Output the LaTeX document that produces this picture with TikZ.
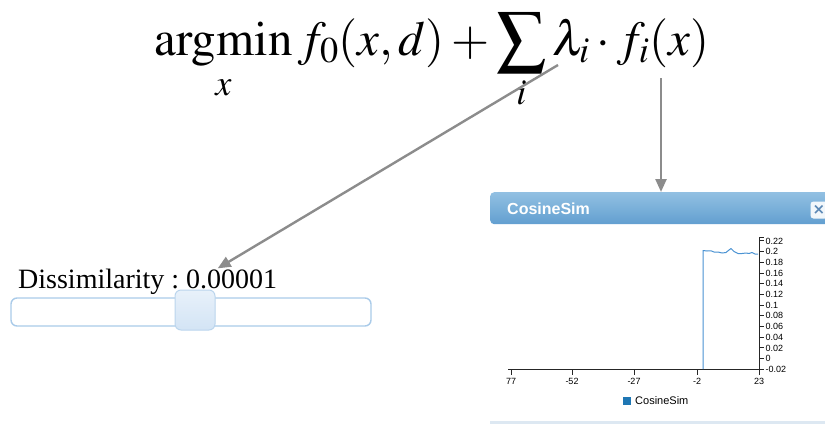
\documentclass[tikz,border=0pt]{standalone}
\usepackage{amsmath}
\usepackage{mathptmx}
\usepackage{fontspec}
\setmainfont{Liberation Serif}
\newfontfamily\uisans{Liberation Sans}
\newfontfamily\symfont{DejaVu Sans}
\usetikzlibrary{arrows.meta,positioning,calc}

\definecolor{pointergray}{HTML}{8C8C8C}
\definecolor{bartop}{HTML}{92C0E2}
\definecolor{barbot}{HTML}{629FD0}
\definecolor{trackblue}{HTML}{AACBE9}
\definecolor{knobtop}{HTML}{E8F1FA}
\definecolor{knobbot}{HTML}{D3E4F5}
\definecolor{seriesblue}{HTML}{4A93D3}
\definecolor{legendblue}{HTML}{1F77B4}
\definecolor{closeblue}{HTML}{5B88B5}
\definecolor{winedge}{HTML}{DDE8F2}

\begin{document}
\frenchspacing
\begin{tikzpicture}[
        x=1pt, y=-1pt,
        pointer/.style={-{Triangle[length=13pt,width=11pt]}, line width=2.4pt, pointergray},
        track/.style={rectangle, draw=trackblue, line width=1.4pt, fill=white, rounded corners=6pt, inner sep=0pt},
        knob/.style={rectangle, draw=trackblue!80, line width=1pt, top color=knobtop, bottom color=knobbot, rounded corners=6pt, inner sep=0pt, minimum width=40pt, minimum height=40pt},
        titlebar/.style={rectangle, top color=bartop, bottom color=barbot, rounded corners=4pt, inner sep=0pt},
        axisline/.style={line width=0.9pt, black!85},
        ticklab/.style={font=\uisans\fontsize{9}{10}\selectfont, inner sep=1pt},
    ]
    \useasboundingbox (0,0) rectangle (825,426);

    % objective
    \node[anchor=base, inner sep=0pt, font=\fontsize{49}{52}\selectfont] (objective) at (432,55)
    {$\displaystyle \operatorname*{argmin}_{x} f_0(x,d) + \sum_{i} \lambda_i \cdot f_i(x)$};
    \coordinate (lambda) at (558,65);
    \coordinate (fx) at (661,78);

    % slider
    \node[anchor=base west, inner sep=0pt, font=\fontsize{28}{30}\selectfont] (dissim) at (18,288) {Dissimilarity : 0.00001};
    \node[track, minimum width=360pt, minimum height=28pt] (slider) at (191,312) {};
    \node[knob] (handle) at (195,310) {};

    % chart window
    \node[rectangle, fill=white, minimum width=350pt, minimum height=200pt, anchor=north west, inner sep=0pt] (window) at (490,222) {};
    \draw[winedge, line width=3pt] (window.south west) -- (window.south east);
    \node[titlebar, minimum width=350pt, minimum height=32pt, anchor=north west] (title) at (490,192) {};
    \node[anchor=west, text=white, font=\uisans\bfseries\fontsize{16}{18}\selectfont, inner sep=0pt] (wintitle) at (507,209) {CosineSim};
    \node[rectangle, fill=white, fill opacity=0.9, text opacity=1, rounded corners=3pt, minimum width=17pt, minimum height=17pt, inner sep=0pt, text=closeblue, font=\symfont\bfseries\fontsize{15}{16}\selectfont] (closebtn) at (819,210) {×};

    % axes
    \draw[axisline] (508,369) -- (759,369);
    \draw[axisline] (759,237) -- (759,372);
    \draw[axisline] (759,237) -- (764,237);
    \foreach \xx/\lab in {511/77,572/-52,634/-27,697/-2,759/23}{
        \draw[axisline] (\xx,369) -- (\xx,375);
        \node[ticklab] (xl\xx) at (\xx,381.5) {\lab};
    }
    \foreach \lab [count=\k from 0] in {-0.02,0,0.02,0.04,0.06,0.08,0.1,0.12,0.14,0.16,0.18,0.2,0.22}{
        \draw[axisline] (759,369.3-10.7*\k) -- (764,369.3-10.7*\k);
        \node[ticklab, anchor=west] (yl\k) at (764.5,369.3-10.7*\k) {\lab};
    }

    % series
    \draw[seriesblue, line width=1pt, line join=round] (703,369) -- (703,250.5) -- (707,251) -- (711,250.8) -- (714,252)
        -- (718,252) -- (722,253) -- (726,252.5) -- (729,250) -- (731,248.5) -- (734,251.5) -- (738,253.5)
        -- (742,253.5) -- (746,253) -- (749,253.5) -- (752,252.5) -- (755,254) -- (758,254);

    % legend
    \node[rectangle, fill=legendblue, minimum size=8.5pt, inner sep=0pt] (legbox) at (627,401) {};
    \node[anchor=west, font=\uisans\fontsize{11}{12}\selectfont, inner sep=0pt] (leglab) at (635,401) {CosineSim};

    % pointers
    \draw[pointer] (lambda) -- ([xshift=70pt]dissim.north);
    \draw[pointer] (fx) -- (fx |- title.north);
\end{tikzpicture}
\end{document}
